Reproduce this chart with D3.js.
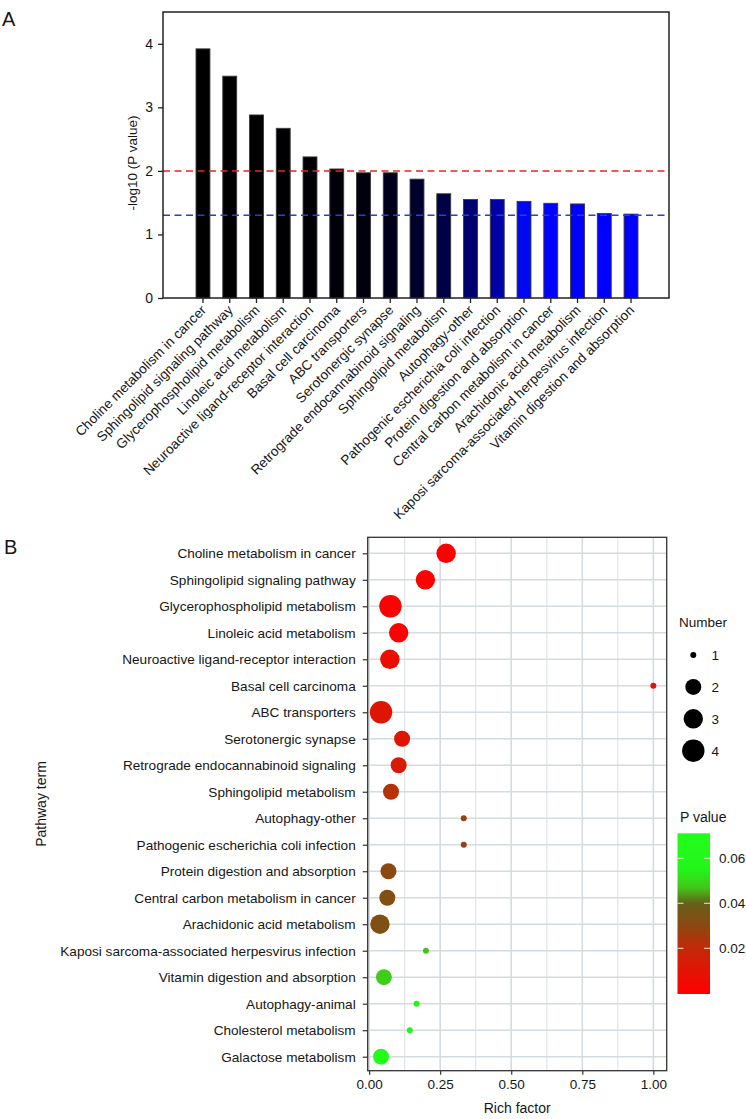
<!DOCTYPE html>
<html>
<head>
<meta charset="utf-8">
<script src="https://cdn.jsdelivr.net/npm/d3@7"></script>
<style>
  html, body { margin: 0; padding: 0; background: #fff; }
  svg { display: block; font-family: "Liberation Sans", Arial, Helvetica, sans-serif; }
</style>
</head>
<body>
<svg id="chart" width="746" height="1119"></svg>
<script>
// ---------- Panel A data ----------
const pathwaysA = [
  "Choline metabolism in cancer",
  "Sphingolipid signaling pathway",
  "Glycerophospholipid metabolism",
  "Linoleic acid metabolism",
  "Neuroactive ligand-receptor interaction",
  "Basal cell carcinoma",
  "ABC transporters",
  "Serotonergic synapse",
  "Retrograde endocannabinoid signaling",
  "Sphingolipid metabolism",
  "Autophagy-other",
  "Pathogenic escherichia coli infection",
  "Protein digestion and absorption",
  "Central carbon metabolism in cancer",
  "Arachidonic acid metabolism",
  "Kaposi sarcoma-associated herpesvirus infection",
  "Vitamin digestion and absorption"
];
const negLog10P = [3.92, 3.49, 2.88, 2.67, 2.22, 2.03, 1.97, 1.97, 1.87, 1.64, 1.55, 1.55, 1.52, 1.49, 1.48, 1.33, 1.32];
const yTicksA = [0, 1, 2, 3, 4];
const thresholdValues = [2, 1.30103];

// bar fill colours (style, by bar order)
const barFill = ["#000000","#000000","#000000","#000002","#000005","#000009","#00000f","#000018","#00002c","#000046","#00006e","#0000a8","#0008f2","#0004ff","#0000ff","#0000ff","#0000ff"];
const thresholdColors = ["#e32626", "#2a3be6"];

// ---------- Panel B data ----------
const pathwaysB = [
  "Choline metabolism in cancer",
  "Sphingolipid signaling pathway",
  "Glycerophospholipid metabolism",
  "Linoleic acid metabolism",
  "Neuroactive ligand-receptor interaction",
  "Basal cell carcinoma",
  "ABC transporters",
  "Serotonergic synapse",
  "Retrograde endocannabinoid signaling",
  "Sphingolipid metabolism",
  "Autophagy-other",
  "Pathogenic escherichia coli infection",
  "Protein digestion and absorption",
  "Central carbon metabolism in cancer",
  "Arachidonic acid metabolism",
  "Kaposi sarcoma-associated herpesvirus infection",
  "Vitamin digestion and absorption",
  "Autophagy-animal",
  "Cholesterol metabolism",
  "Galactose metabolism"
];
const richFactor = [0.271, 0.198, 0.075, 0.104, 0.073, 1.0, 0.042, 0.116, 0.104, 0.077, 0.333, 0.333, 0.068, 0.064, 0.038, 0.2, 0.052, 0.167, 0.143, 0.042];
const geneNumber = [3, 3, 4, 3, 3, 1, 4, 2, 2, 2, 1, 1, 2, 2, 3, 1, 2, 1, 1, 2];
const pValue = [0.00012, 0.00032, 0.0013, 0.0021, 0.006, 0.0093, 0.0107, 0.0107, 0.0135, 0.0229, 0.0282, 0.0282, 0.0302, 0.0324, 0.0331, 0.0468, 0.0479, 0.055, 0.06, 0.0708];
const xTicksB = [0, 0.25, 0.5, 0.75, 1.0];
const xMinorB = [0.125, 0.375, 0.625, 0.875];
const sizeLegend = [1, 2, 3, 4];
const pLegendTicks = [0.02, 0.04, 0.06];

const svg = d3.select("#chart");
const txt = "#161616";

// =============== PANEL A ===============
const A = { left: 163, right: 669, top: 12, bottom: 298 };
svg.append("text").attr("x", 2).attr("y", 25.5).attr("font-size", 20).attr("fill", txt).text("A");

const xA = d3.scaleBand().domain(pathwaysA)
  .range([189.6, 644.4]).paddingInner(0.48).paddingOuter(0.24);
const yA = d3.scaleLinear().domain([0, 4.5]).range([A.bottom, A.top]);

const gA = svg.append("g");
gA.selectAll("rect.bar").data(pathwaysA).join("rect")
  .attr("class", "bar")
  .attr("x", d => xA(d))
  .attr("width", xA.bandwidth())
  .attr("y", (d, i) => yA(negLog10P[i]))
  .attr("height", (d, i) => yA(0) - yA(negLog10P[i]))
  .attr("fill", (d, i) => barFill[i])
  .attr("stroke", "#3a3a3a").attr("stroke-width", 0.9);

gA.selectAll("line.thr").data(thresholdValues).join("line")
  .attr("class", "thr")
  .attr("x1", A.left).attr("x2", A.right)
  .attr("y1", d => yA(d)).attr("y2", d => yA(d))
  .attr("stroke", (d, i) => thresholdColors[i])
  .attr("stroke-width", 1.5).attr("stroke-dasharray", "7,4.5");

// frame
gA.append("rect").attr("x", A.left).attr("y", A.top)
  .attr("width", A.right - A.left).attr("height", A.bottom - A.top)
  .attr("fill", "none").attr("stroke", "#222").attr("stroke-width", 1.5);

// y axis
const yAxisA = gA.append("g").attr("transform", `translate(${A.left},0)`)
  .call(d3.axisLeft(yA).tickValues(yTicksA).tickSize(5).tickPadding(5).tickFormat(d3.format("d")));
yAxisA.select(".domain").remove();
yAxisA.selectAll("line").attr("stroke", "#222").attr("stroke-width", 1.3);
yAxisA.selectAll("text").attr("font-size", 14).attr("fill", txt).attr("font-family", null);

gA.append("text")
  .attr("transform", `translate(137,${(A.top + A.bottom) / 2 + 8}) rotate(-90)`)
  .attr("text-anchor", "middle").attr("font-size", 13.5).attr("fill", txt)
  .text("-log10 (P value)");

// x axis
const xAxisA = gA.append("g").attr("transform", `translate(0,${A.bottom})`)
  .call(d3.axisBottom(xA).tickSize(5).tickSizeOuter(0));
xAxisA.select(".domain").remove();
xAxisA.selectAll("line").attr("stroke", "#222").attr("stroke-width", 1.3);
xAxisA.selectAll("text")
  .attr("font-size", 13.6).attr("fill", txt).attr("font-family", null)
  .attr("text-anchor", "end")
  .attr("dy", null).attr("y", null)
  .attr("transform", "translate(4,13) rotate(-45)");

// =============== PANEL B ===============
const B = { left: 367.7, right: 666.7, top: 537.3, bottom: 1070.7 };
svg.append("text").attr("x", 4).attr("y", 553.5).attr("font-size", 20).attr("fill", txt).text("B");

const xB = d3.scaleLinear().domain([-0.005, 1.047]).range([B.left, B.right]);
const yB = d3.scalePoint().domain(pathwaysB).range([553.3, 1056.7]);
const rScale = d3.scaleLinear().domain([1, 2, 3, 4]).range([3, 8, 9.7, 11.2]);
const colorScale = d3.scaleLinear()
  .domain([0, 0.02, 0.03, 0.04, 0.047, 0.055, 0.072])
  .range(["#ff0000", "#c42808", "#8c4810", "#65601a", "#42c818", "#22f51a", "#22ff1a"]);

const gB = svg.append("g");
gB.append("rect").attr("x", B.left).attr("y", B.top)
  .attr("width", B.right - B.left).attr("height", B.bottom - B.top).attr("fill", "#fff");

// grid
gB.selectAll("line.minor").data(xMinorB).join("line").attr("class", "minor")
  .attr("x1", d => xB(d)).attr("x2", d => xB(d)).attr("y1", B.top).attr("y2", B.bottom)
  .attr("stroke", "#dde3e7").attr("stroke-width", 1.1);
gB.selectAll("line.vmaj").data(xTicksB).join("line").attr("class", "vmaj")
  .attr("x1", d => xB(d)).attr("x2", d => xB(d)).attr("y1", B.top).attr("y2", B.bottom)
  .attr("stroke", "#d4dce1").attr("stroke-width", 1.6);
gB.selectAll("line.hmaj").data(pathwaysB).join("line").attr("class", "hmaj")
  .attr("x1", B.left).attr("x2", B.right).attr("y1", d => yB(d)).attr("y2", d => yB(d))
  .attr("stroke", "#d4dce1").attr("stroke-width", 1.6);

// points
gB.selectAll("circle.pt").data(pathwaysB).join("circle").attr("class", "pt")
  .attr("cx", (d, i) => xB(richFactor[i]))
  .attr("cy", d => yB(d))
  .attr("r", (d, i) => rScale(geneNumber[i]))
  .attr("fill", (d, i) => colorScale(pValue[i]));

gB.append("rect").attr("x", B.left).attr("y", B.top)
  .attr("width", B.right - B.left).attr("height", B.bottom - B.top)
  .attr("fill", "none").attr("stroke", "#333").attr("stroke-width", 1.3);

// y axis
const yAxisB = gB.append("g").attr("transform", `translate(${B.left},0)`)
  .call(d3.axisLeft(yB).tickSize(5).tickPadding(7));
yAxisB.select(".domain").remove();
yAxisB.selectAll("line").attr("stroke", "#333").attr("stroke-width", 1.2);
yAxisB.selectAll("text").attr("font-size", 13.6).attr("fill", txt).attr("font-family", null);

// x axis
const xAxisB = gB.append("g").attr("transform", `translate(0,${B.bottom})`)
  .call(d3.axisBottom(xB).tickValues(xTicksB).tickSize(4).tickPadding(5).tickFormat(d3.format(".2f")));
xAxisB.select(".domain").remove();
xAxisB.selectAll("line").attr("stroke", "#333").attr("stroke-width", 1.2);
xAxisB.selectAll("text").attr("font-size", 13.5).attr("fill", txt).attr("font-family", null);

gB.append("text").attr("x", (B.left + B.right) / 2).attr("y", 1113)
  .attr("text-anchor", "middle").attr("font-size", 14).attr("fill", txt).text("Rich factor");
gB.append("text")
  .attr("transform", `translate(46,${(B.top + B.bottom) / 2}) rotate(-90)`)
  .attr("text-anchor", "middle").attr("font-size", 14).attr("fill", txt).text("Pathway term");

// size legend
const legN = svg.append("g");
legN.append("text").attr("x", 679).attr("y", 627).attr("font-size", 13.5).attr("fill", txt).text("Number");
const legY = d3.scaleLinear().domain([1, 4]).range([655, 750.7]);
legN.selectAll("circle").data(sizeLegend).join("circle")
  .attr("cx", 693.3).attr("cy", d => legY(d)).attr("r", d => rScale(d)).attr("fill", "#000");
legN.selectAll("text.lab").data(sizeLegend).join("text").attr("class", "lab")
  .attr("x", 711.5).attr("y", d => legY(d)).attr("dy", "0.36em")
  .attr("font-size", 13.5).attr("fill", txt).text(d => d);

// colour legend
const legP = svg.append("g");
legP.append("text").attr("x", 680).attr("y", 822).attr("font-size", 14).attr("fill", txt).text("P value");
const cb = { x: 677.5, w: 32.5, top: 833.3, bottom: 994 };
const pLeg = d3.scaleLinear().domain([-0.0003, 0.0711]).range([cb.bottom, cb.top]);
const defs = svg.append("defs");
const grad = defs.append("linearGradient").attr("id", "pgrad")
  .attr("x1", 0).attr("y1", 1).attr("x2", 0).attr("y2", 0);
d3.range(0, 1.0001, 0.02).forEach(t => {
  const p = pLeg.domain()[0] + t * (pLeg.domain()[1] - pLeg.domain()[0]);
  grad.append("stop").attr("offset", t).attr("stop-color", colorScale(Math.max(0, p)));
});
legP.append("rect").attr("x", cb.x).attr("y", cb.top).attr("width", cb.w)
  .attr("height", cb.bottom - cb.top).attr("fill", "url(#pgrad)");
pLegendTicks.forEach(t => {
  legP.append("line").attr("x1", cb.x).attr("x2", cb.x + 6).attr("y1", pLeg(t)).attr("y2", pLeg(t))
    .attr("stroke", "#e8e8c8").attr("stroke-width", 1);
  legP.append("line").attr("x1", cb.x + cb.w - 6).attr("x2", cb.x + cb.w).attr("y1", pLeg(t)).attr("y2", pLeg(t))
    .attr("stroke", "#e8e8c8").attr("stroke-width", 1);
});
legP.selectAll("text.lab").data(pLegendTicks).join("text").attr("class", "lab")
  .attr("x", 719).attr("y", d => pLeg(d)).attr("dy", "0.36em")
  .attr("font-size", 13.5).attr("fill", txt).text(d => d.toFixed(2));
</script>
</body>
</html>
